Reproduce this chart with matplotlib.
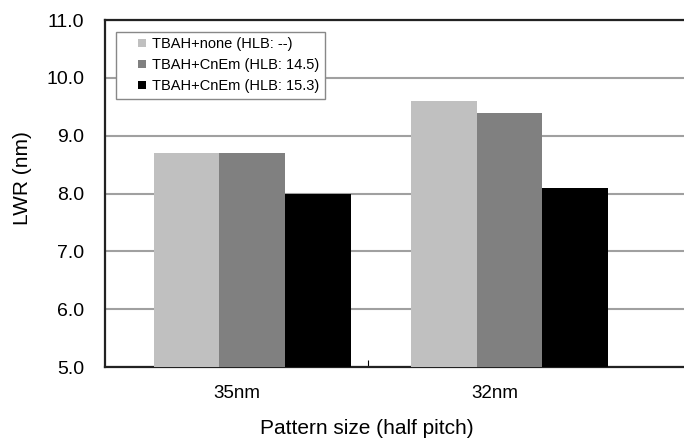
import matplotlib
matplotlib.use("Agg")
import matplotlib.pyplot as plt
from matplotlib.patches import Rectangle
from matplotlib.legend_handler import HandlerPatch
from matplotlib.container import BarContainer
import numpy as np

plt.rcParams["font.family"] = ["Liberation Sans", "DejaVu Sans"]

# ── Data ────────────────────────────────────────────────────
categories = ["35nm", "32nm"]
series_labels = ["TBAH+none (HLB: --)", "TBAH+CnEm (HLB: 14.5)", "TBAH+CnEm (HLB: 15.3)"]
none_vals = [8.7, 9.6]
hlb145_vals = [8.7, 9.4]
hlb153_vals = [8.0, 8.1]
colors = ["#C0C0C0", "#808080", "#000000"]

fig = plt.figure(figsize=(6.84, 4.48), dpi=100)
ax = fig.add_axes([105 / 684, (448 - 367) / 448, 600 / 684, (367 - 20) / 448])

x = np.arange(len(categories))
w = 0.255
for i, (vals, lab, c) in enumerate(zip([none_vals, hlb145_vals, hlb153_vals], series_labels, colors)):
    ax.bar(x + (i - 1) * w, np.array(vals) - 5.0, bottom=5.0, width=w, color=c,
           edgecolor="none", label=lab, zorder=3)

ax.set_ylim(5.0, 11.0)
ax.set_xlim(-0.572, 1.76)
ax.set_yticks(np.arange(5, 12, 1))
ax.set_yticklabels([f"{v:.1f}" for v in range(5, 12)], fontsize=14)
ax.yaxis.grid(True, color="#A0A0A0", lw=1.5, zorder=0)
ax.tick_params(axis="y", length=0, pad=15)

# category labels sit slightly left of the bar groups
ax.set_xticks(x - 0.058)
ax.set_xticklabels(categories, fontsize=13.5)
ax.tick_params(axis="x", length=0, pad=13)
ax.set_xticks([0.451], minor=True)
ax.tick_params(axis="x", which="minor", direction="in", length=5, width=0.8)

for s in ["left", "bottom", "top"]:
    ax.spines[s].set_linewidth(1.6)
    ax.spines[s].set_color("#222222")
ax.spines["right"].set_visible(False)

ax.set_ylabel("LWR (nm)", fontsize=15)
ax.yaxis.set_label_coords(-0.122, 0.545)
ax.set_xlabel("Pattern size (half pitch)", fontsize=15)
ax.xaxis.set_label_coords(0.437, -0.15)


# small square swatch at the right end of the handle box
def small_square(legend, orig_handle, xdescent, ydescent, width, height, fontsize):
    s = 5.8
    return Rectangle((-xdescent + width - s, -ydescent + (height - s) / 2), s, s)


def copy_first(tgt, src):
    tgt.update_from(src.patches[0])


leg = ax.legend(loc="upper left", bbox_to_anchor=(0.018, 0.966), borderaxespad=0,
                fontsize=10.5, frameon=True, fancybox=False, handlelength=1.7,
                handleheight=0.7, handletextpad=0.45, borderpad=0.35, labelspacing=0.5,
                handler_map={BarContainer: HandlerPatch(patch_func=small_square,
                                                        update_func=copy_first)})
leg.get_frame().set_edgecolor("#888888")
leg.get_frame().set_linewidth(1.0)
leg.get_frame().set_alpha(1.0)

fig.savefig("out.png", dpi=100)
